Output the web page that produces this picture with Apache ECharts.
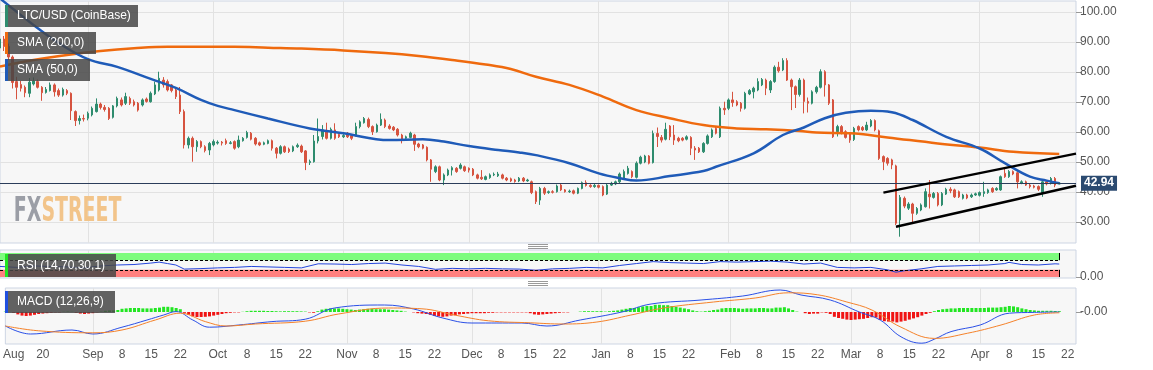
<!DOCTYPE html>
<html><head><meta charset="utf-8">
<script src="https://cdn.jsdelivr.net/npm/echarts@6/dist/echarts.min.js"></script>
<style>html,body{margin:0;padding:0;background:#fff}#c{width:1153px;height:370px}</style>
</head><body><div id="c"></div>
<script>
// ---------- data ----------
const startDate = [2019, 7, 11];   // first category (Aug 11 2019)
const dayCount = 258;              // categories Aug 11 2019 .. Apr 24 2020
const ohlc = [ // [open, close, low, high]
[88,91,87,92],[91,88.5,87,92],[88.5,85,84,89.5],[85,76.5,74.5,85.5],[76.8,74.9,70.9,78.4],[75.8,74.6,73.5,77],[74.9,73.1,71.6,75.5],[72.9,76.6,71.6,78],[76,77,75.5,78.2],[76.8,74.9,74.5,77.5],
[74.9,73.1,70.4,75.3],[73.2,74.2,72.8,75],[73.8,75.7,73.5,76.5],[75.7,73.4,71.8,76.2],[73.8,72.3,71.7,74.5],[72.3,74.2,71.8,74.8],[73.8,72.9,72.3,74.3],[72.9,67.1,64,73.2],[66.8,63.8,62,67.2],[63.8,64.5,62.5,65.5],
[64.5,64.3,63.5,65.8],[64.6,66.2,63.9,66.8],[65.7,67.9,65.2,68.5],[66.8,69.3,66.5,71.2],[69.3,68.2,67.5,69.8],[68.2,67.5,66.8,69],[67.9,64.5,64,68.3],[64.9,68.7,64.5,69],[68.7,71.2,68.2,71.8],[70.7,69,68.5,71.5],
[69.6,71.8,69,73.1],[71.2,69.6,69,71.8],[70.1,69,68.5,70.8],[69.6,67.3,66.8,70],[69,70.7,68.5,71.2],[71,70.2,69.8,71.5],[70.1,72.9,69.8,73.5],[72.7,75.7,72.3,76.8],[74,77.9,73.5,80.1],[77.3,75.7,74.8,78.3],
[76.8,74,73.5,77.5],[75.7,73.8,73.2,76],[74,71.8,71,74.5],[72.3,66.8,66,75],[66.8,55.7,54.5,67.5],[55.7,57.9,54.5,58.5],[57.9,55.1,50.1,58.5],[55.1,56.8,53.4,57.3],[56.8,55.1,54.6,57.2],[55.1,53.8,53.2,55.6],
[54,56.2,52.3,56.7],[55.7,56.8,55.2,57.5],[56.3,56.6,55.8,57.2],[56.6,56.3,55.5,57],[57.1,56.2,55.7,57.8],[56.2,56.4,55.9,57],[56.8,54.6,54.1,57.2],[55.1,57.3,54.6,58.8],[57.1,57.9,56.8,58.3],[58.2,59.8,57.8,60.4],
[59.6,57.6,57.2,60],[57.9,56,55.5,58.3],[56.4,55.7,55.3,56.8],[55.9,56.4,55.6,56.8],[56.2,57.1,55.9,57.5],[57.1,54.6,53.8,57.5],[54.6,52.9,51.2,55],[52.9,55.1,52.5,55.6],[55.1,53.4,53,55.5],[54.3,53.5,53,54.8],
[53.7,55.1,53.3,55.5],[55.1,55.6,54.7,56.2],[55.3,53.4,53,55.8],[53.7,49.8,47.3,54],[49.8,50.2,49,50.8],[50.1,57,49.8,59],[57,58.5,56.2,64.5],[58.5,60.7,57.5,62.3],[60.1,57.9,57.5,63.1],[57.9,60.9,57.5,61.5],
[60.7,57.9,57.4,62.9],[59.2,58.4,58,59.6],[58.4,58.8,58,59.3],[59.6,58.4,58,60],[58.8,57.9,57.3,59.2],[59,61.8,58.5,63.1],[61.8,63.4,61.2,63.9],[63.1,64.5,62.8,65],[64.2,61.8,61.3,64.8],[61.8,60.1,59,62.2],
[60.1,62.3,59.8,62.8],[62.3,64.2,62,66.2],[64,61.8,61.3,64.5],[62,61.2,60.8,62.6],[61.6,60.7,60.3,62],[60.9,59,58.5,61.3],[59,57.3,56.2,59.4],[57.9,58.4,57.5,58.8],[58.2,59.6,57.9,60.1],[59,55.9,53.7,59.4],
[56,55.1,54.6,56.4],[55.7,54.6,54.2,56],[54.9,50.7,50.2,55.2],[50.7,47.6,43.4,51],[46.8,48.4,46.3,48.9],[48.4,44,43.6,48.8],[44,45.7,42.3,46.2],[45.7,47.3,45.3,47.8],[47.3,48.1,45.5,48.6],[47.9,46.8,46.4,48.3],
[47.9,49,47.5,49.6],[48.4,47.1,46.7,48.8],[47.9,47.3,46.5,48.2],[47.6,45.7,45.3,48],[45.7,44.6,44.2,46.1],[44.9,44.4,44,47.3],[44.2,45.1,43.9,45.5],[44.8,45.7,44.4,46.2],[45.7,45.9,45.3,46.5],[45.4,46,45,46.7],
[45.7,44.6,44.2,46.1],[44.6,44,43.6,45],[44.4,43.7,43.3,44.8],[44,43.5,43.1,44.4],[43.7,44.6,43.3,45],[44.6,43.7,43.3,45],[43.7,44,43.4,44.4],[43.4,39.8,39.3,43.8],[40.1,36.8,36,40.5],[37.3,41.2,35.7,41.7],
[41.2,39.6,39,41.7],[39.8,40.1,39.4,40.5],[40.1,39.9,39.5,40.6],[40.1,42,39.8,42.5],[42.3,40.7,40.3,42.9],[40.7,40.1,39.8,41],[40.1,40.3,39.7,40.8],[40.4,39.6,39.2,40.8],[39.6,41.2,39.3,41.5],[41.2,43.1,40.9,43.5],
[43.1,42.2,41.8,43.9],[42.2,41.8,41.4,42.6],[41.8,42.2,41.4,42.8],[42.2,41.6,41.2,42.5],[41.8,39,38.6,42.2],[39.3,42.3,39,42.7],[42.3,42.9,42,43.4],[42.7,43.4,42.3,43.8],[43.4,46,43,46.5],[44.6,46.8,44,47.5],
[46.2,47.9,45.8,48.7],[46.8,45.1,44.6,47.2],[44.9,49.6,44.5,50.2],[49.6,51.6,49.2,52.1],[50,52,49.6,52.4],[52,49.6,49.2,52.3],[49.8,59.5,49.5,60.5],[59.5,58.5,55,61.5],[58.2,57.3,56.5,59],[57.6,60.9,57.2,63.1],
[62,58.4,57.3,62.3],[59,57.3,55.7,62.3],[57.9,57.1,56.6,58.4],[57.9,57.3,56.9,58.3],[57.6,58.4,57.2,58.9],[58.2,54.6,52.3,58.6],[54.6,54,50.7,55.3],[54.6,53.4,53,55],[53.4,56.2,53,56.6],[56.2,58.7,55.8,59.2],
[58.4,60.7,58,61.2],[61.2,59.6,59.2,61.7],[58.4,67.9,58,68.5],[67.9,67.4,65.7,70.1],[67.9,70.7,67.3,71.2],[70.7,69.8,68.4,73.4],[70.1,69,68.6,70.6],[69.6,67.9,66.8,70],[67.9,72.9,67.5,73.4],[72.7,73.8,72.3,74.3],
[73.4,74.6,71.2,75.1],[74,76.8,73.6,77.9],[75.7,77.5,75.3,78],[77.3,74.6,72.3,77.8],[74,76.8,73,77.3],[76.8,81.6,76.4,82.2],[81.6,80.4,79.8,83.4],[80.7,83.8,80.3,84.6],[83.8,77.3,77,84.6],[77.3,75.1,67.3,77.8],
[75.1,72.5,68,75.5],[72.5,77.3,71.8,78],[77.3,70.2,66.2,77.8],[70.2,69.6,66.5,71.5],[69.6,73.4,69.2,73.9],[73.4,74.9,72.8,75.4],[74.9,80.1,74.5,80.9],[80.1,75.7,71.8,80.6],[75.7,69.6,69,76],[70.7,58.4,58,71],
[60.1,61.8,58.5,62.4],[61.8,59.6,59.2,62.3],[60.1,58.2,57.8,60.6],[59.6,57.3,56.4,60],[57.5,61.2,57,61.7],[61.8,60.7,60.2,62.2],[61.5,60.7,60.3,62],[60.7,62.3,60.3,63.4],[62,63.8,61.6,64.3],[63.8,60.7,60.2,64.2],
[60.4,51.2,50.7,60.8],[51.8,50.1,47.3,52.2],[51.2,49.6,48.8,51.6],[50.7,49,47.6,51.1],[48.7,29.6,29,49.1],[30.7,38.2,25.1,39],[37.9,35.3,34.6,38.5],[34.6,36,34,36.6],[36,32.9,29.6,36.4],[32.9,34.5,32.4,35],
[34,35.7,33.6,36.2],[35.1,40.1,34.8,41.2],[39.3,38.4,34.5,44],[38.2,39.5,37.8,40],[39.5,35.7,35.2,40],[35.7,39.5,35.3,40],[39.3,40.9,39,41.4],[40.9,40.4,39.6,41.6],[40.7,38.4,38,41.1],[40.1,38.4,38,40.5],
[37.9,39,37.5,39.4],[39,38,37.6,39.4],[38.4,39,38,39.5],[39,39.4,38.7,39.8],[38.9,39.8,38.5,40.2],[39.5,40.1,38.4,43.4],[39.8,40.7,39.4,41.1],[41.2,40.1,39.7,41.6],[40.7,41.2,40.4,41.6],[40.7,45.1,40.4,45.5],
[46.2,45.1,44.7,47.9],[45.1,46.8,44.7,47.3],[46.8,46,45.6,47.2],[46.4,43.4,41.2,46.8],[43,43.4,42.6,43.9],[43.4,42.3,42,43.8],[42.3,41.8,41.2,42.7],[42,41.6,41.2,42.4],[41.8,40.9,40.3,42.2],[39.5,43.4,38.4,43.9],
[43.4,42.7,42.2,44],[42.9,44.5,42.5,45],[44.5,42.3,41.6,45],[42.7,42.94,42.5,43.3]
];
const sma200 = [[0,81.8],[8,84],[16,85.7],[24,87],[32,87.9],[40,88.4],[48,88.4],[56,88.4],[64,88.1],[72,87.8],[82,87.2],[92,86.3],[100,85.3],[108,84],[116,82.5],[122,81],[128,78.4],[136,75.7],[144,71.8],[152,67.3],[160,64.6],[168,62.3],[176,61.2],[183,60.9],[191,60.3],[195,59.8],[203,59.6],[212,58.2],[224,56.2],[234,54.8],[242,53.4],[253,52.7]];
const sma50 = [[0,104.5],[8,95.7],[14,89.7],[21,84.3],[28,81.7],[36,77.7],[42,74.7],[48,70.7],[52,68.7],[56,67.3],[64,64.5],[74,61.2],[82,59.6],[93,57.3],[101,57.6],[106,56.8],[112,55.3],[119,54],[124,53.2],[128,52.3],[136,49.6],[143,46.2],[148,44.6],[152,43.8],[160,45.3],[168,47],[171,48.4],[180,52.9],[187,59],[192,61.5],[197,64.6],[202,66.4],[208,67.1],[213,66.6],[218,64],[226,58.4],[234,54.5],[240,49.6],[246,45.1],[250,43.8],[253,42.9]];
const rsi = [[0,44],[4,40],[8,46],[12,44],[16,42],[20,38],[24,46],[28,50],[32,52],[36,58],[38,62],[40,56],[42,50],[44,33],[48,35],[52,38],[56,40],[60,44],[64,42],[68,40],[72,38],[76,55],[80,54],[84,52],[88,56],[92,58],[96,50],[100,44],[104,32],[108,36],[112,34],[116,36],[120,34],[124,33],[128,28],[132,34],[136,36],[140,40],[144,38],[148,48],[152,56],[156,64],[160,60],[164,58],[168,56],[172,64],[176,62],[180,64],[184,66],[188,62],[192,54],[196,58],[200,40],[204,38],[208,40],[212,30],[214,20],[216,26],[220,34],[224,44],[228,46],[232,48],[236,50],[240,56],[241,61],[244,52],[248,50],[252,55],[253,54]];
const macdLine = [[0,-3.5],[6,-5.5],[16,-4.5],[21,-5.5],[28,-3.8],[34,-2],[38,-0.75],[41,0.1],[45,-2],[49,-3.8],[56,-3.25],[64,-2.4],[72,-1.8],[79,1],[91,1.75],[98,0.75],[105,-1.5],[112,-2.75],[124,-2.75],[130,-3.5],[138,-2],[148,0],[155,2],[167,3],[177,4],[186,5.5],[191,4.25],[198,3],[205,0],[210,-2],[215,-6.2],[220,-7.8],[223,-6.8],[227,-4.9],[234,-3.25],[241,-0.3],[247,-0.1],[253,0]];
const signalLine = [[0,-3.5],[8,-4.7],[21,-5.2],[28,-4.5],[36,-2],[42,-0.3],[48,-2.4],[53,-3.5],[60,-3],[72,-2.3],[80,-0.5],[92,1],[100,0.8],[108,-0.8],[116,-2.2],[126,-2.7],[134,-3],[142,-2.5],[150,-0.8],[158,1],[170,2.5],[180,3.5],[188,4.8],[195,4.3],[202,2.5],[208,0.5],[215,-3.8],[223,-6.6],[231,-5.3],[239,-3.25],[247,-0.75],[253,-0.2]];
const macdHist = [
0.1,0,-0.2, -0.6,-0.9,-1.0,-0.9, -0.7,-0.5,-0.4,-0.3,-0.2,-0.1,-0.1, 0.05,0.1,0.05,-0.2,-0.4,-0.5,-0.4,
-0.3,-0.1,0.1,0.3,0.4,0.4,0.5, 0.8,0.9,1.0,1.0,1.0,0.9,0.9,0.9,1.0,1.1,1.3,1.3,1.2,1.0,0.7,
-0.2,-0.7,-1.1,-1.25,-1.25,-1.2,-1.1,-0.9,-0.7,-0.5, -0.3,-0.2,-0.1,-0.1,0.05,
0.2,0.3,0.3,0.3,0.3,0.25,0.25,0.2,0.15,0.2,0.2,0.2,0.2,0.15,0.1, -0.1,-0.2,
0.2,0.6,0.8,0.9,0.9,0.9,0.8,0.7,0.6,0.5,0.6,0.7,0.8,0.8,0.7,0.7,0.7,0.6,0.5,0.4,0.3,0.1,0,-0.1,-0.3,-0.4,
-0.5,-0.7,-1.0,-1.1,-1.2,-1.1,-0.9,-0.8,-0.6,-0.5,-0.4,-0.3,
-0.3,-0.3,-0.3,-0.2,-0.2,-0.1,-0.1,-0.1,-0.1,-0.1,-0.1,-0.1,-0.1,-0.3,-0.6,-0.7,-0.6,-0.5,
-0.4,-0.3,-0.2,-0.1,-0.1,0,0,0.1,0.2,0.2,0.2,0.2,0.2,0.1,0.2,0.3,0.4,
0.6,0.8,1.0,1.0,1.2,1.4,1.5,1.5,1.8,1.8,1.7,1.7,1.5,1.3,1.1,0.9,0.7,0.4,0.2,0.1,0.2,0.3,0.5,0.6,0.9,
1.0,1.0,1.0,0.9,0.8,0.9,0.9,0.9,1.0,1.0,0.9,0.9,1.1,1.1,1.2,0.9,0.5,
0.1,0.0,-0.3,-0.5,-0.4,-0.4,-0.1,-0.2,-0.5,-1.2,-1.5,-1.7,-1.9,-2.0,-1.9,-1.8,-1.7,-1.5,-1.3,-1.4,-2.0,-2.3,-2.4,-2.4,-2.6,
-2.4,-2.2,-1.9,-1.6,-1.3,-0.9,-0.5,-0.2,
0.2,0.5,0.7,0.8,0.9,0.9,1.0,1.0,1.0,1.0,1.0,1.0,1.0,1.1,1.1,1.1,1.2,1.3,1.5,1.4,1.2,0.9,0.7,0.5,0.4,0.3,0.3,0.3,0.3,0.25,0.2
];
const priceTicks = [30,40,50,60,70,80,90,100];
const tickLabels = [['2019-08-13','Aug'],['2019-08-20','20'],['2019-09-01','Sep'],['2019-09-08','8'],['2019-09-15','15'],['2019-09-22','22'],['2019-10-01','Oct'],['2019-10-08','8'],['2019-10-15','15'],['2019-10-22','22'],['2019-11-01','Nov'],['2019-11-08','8'],['2019-11-15','15'],['2019-11-22','22'],['2019-12-01','Dec'],['2019-12-08','8'],['2019-12-15','15'],['2019-12-22','22'],['2020-01-01','Jan'],['2020-01-08','8'],['2020-01-15','15'],['2020-01-22','22'],['2020-02-01','Feb'],['2020-02-08','8'],['2020-02-15','15'],['2020-02-22','22'],['2020-03-01','Mar'],['2020-03-08','8'],['2020-03-15','15'],['2020-03-22','22'],['2020-04-01','Apr'],['2020-04-08','8'],['2020-04-15','15'],['2020-04-22','22']];
const monthLines = ['2019-09-01','2019-10-01','2019-11-01','2019-12-01','2020-01-01','2020-02-01','2020-03-01','2020-04-01'];
const lastPrice = 42.94;
const channelUpper = [[211, 39.8], [257, 52.8]];
const channelLower = [[214, 28.4], [257, 42.1]];
const legendTexts = ['LTC/USD (CoinBase)', 'SMA (200,0)', 'SMA (50,0)', 'RSI (14,70,30,1)', 'MACD (12,26,9)'];

// ---------- build ----------
const dates = [];
const t0 = Date.UTC(startDate[0], startDate[1], startDate[2]);
for (let k = 0; k < dayCount; k++) dates.push(new Date(t0 + k * 86400000).toISOString().slice(0, 10));
const labelMap = new Map(tickLabels);
const gridSet = new Set(monthLines);
const pts = arr => arr.map(p => [dates[p[0]], p[1]]);

const UP = '#2e8c6e', DOWN = '#d6533f';
const FONT = '"Liberation Sans", Arial, sans-serif';
const gridBase = {left: 0, width: 1076, show: true, backgroundColor: '#f7f7f7', borderColor: '#cdd5e3', borderWidth: 1};

function xAx(i, showLabel) {
  return {
    type: 'category', gridIndex: i, data: dates, boundaryGap: false,
    axisLine: {show: false}, axisTick: {show: false},
    axisLabel: {show: showLabel, interval: (idx, v) => labelMap.has(v), formatter: v => labelMap.get(v) || '',
      color: '#555', fontSize: 12, fontFamily: FONT, margin: 5},
    splitLine: {show: true, interval: (idx, v) => gridSet.has(v), lineStyle: {color: '#e2e2e2', width: 1}}
  };
}
function yAx(i, min, max, vals, fmt, split) {
  return {
    type: 'value', gridIndex: i, position: 'right', min, max, scale: true,
    axisLine: {show: false},
    axisTick: {show: true, length: 6, customValues: vals, lineStyle: {color: '#999'}},
    axisLabel: {customValues: vals, formatter: fmt, color: '#555', fontSize: 12, fontFamily: FONT, margin: 4},
    splitLine: {show: split, lineStyle: {color: '#e2e2e2'}}
  };
}

function legendBox(x, y, w, h, color, text) {
  return {type: 'group', z: 100, children: [
    {type: 'rect', shape: {x, y, width: w, height: h}, style: {fill: 'rgba(70,70,70,0.85)'}, z: 100},
    {type: 'rect', shape: {x, y, width: 3, height: h}, style: {fill: color}, z: 101},
    {type: 'text', x: x + 12, y: y + h / 2, z: 101, style: {text, fill: '#fff', font: '12px ' + FONT, verticalAlign: 'middle'}}
  ]};
}
function grip(cx, cy) {
  const ch = [];
  for (let k = -1; k <= 1; k++) ch.push({type: 'line', shape: {x1: cx - 10, y1: cy + k * 2 + 0.5, x2: cx + 10, y2: cy + k * 2 + 0.5}, style: {stroke: '#9a9a9a', lineWidth: 1}});
  return {type: 'group', children: ch};
}

const histData = macdHist.map(v => ({value: v, itemStyle: {color: v >= 0 ? '#22e622' : '#f01414'}}));
const logoFont = 'bold 34px "Liberation Sans Narrow", "DejaVu Sans Condensed", sans-serif';

const option = {
  animation: false,
  backgroundColor: '#ffffff',
  grid: [
    Object.assign({top: 1, height: 242}, gridBase),
    Object.assign({top: 250, height: 28}, gridBase),
    Object.assign({top: 288, height: 56}, gridBase)
  ],
  xAxis: [xAx(0, false), xAx(1, false), xAx(2, true)],
  yAxis: [
    yAx(0, 23, 103.67, priceTicks, v => v.toFixed(2), true),
    yAx(1, -4.17, 112.5, [0], v => v.toFixed(2), false),
    yAx(2, -8, 6, [-0.001], v => v.toFixed(2), false)
  ],
  series: [
    {
      type: 'candlestick', xAxisIndex: 0, yAxisIndex: 0, data: ohlc, barWidth: 2,
      itemStyle: {color: UP, color0: DOWN, borderColor: UP, borderColor0: DOWN, borderWidth: 1},
      markLine: {
        silent: true, symbol: ['none', 'none'], animation: false,
        data: [
          {yAxis: lastPrice, lineStyle: {color: '#2b3d5b', width: 1, type: 'solid'},
            label: {show: true, position: 'end', formatter: lastPrice.toFixed(2), color: '#fff', fontWeight: 'bold', fontSize: 12, fontFamily: FONT,
              backgroundColor: '#2b4a70', padding: [2, 3, 1, 3], distance: 5}},
          [{coord: [dates[channelUpper[0][0]], channelUpper[0][1]], lineStyle: {color: '#000', width: 2.5, type: 'solid'}, label: {show: false}},
           {coord: [dates[channelUpper[1][0]], channelUpper[1][1]]}],
          [{coord: [dates[channelLower[0][0]], channelLower[0][1]], lineStyle: {color: '#000', width: 2.5, type: 'solid'}, label: {show: false}},
           {coord: [dates[channelLower[1][0]], channelLower[1][1]]}]
        ]
      }
    },
    {type: 'line', xAxisIndex: 0, yAxisIndex: 0, data: pts(sma200), smooth: 0.4, showSymbol: false, lineStyle: {color: '#ef6a0e', width: 2.5}, z: 3},
    {type: 'line', xAxisIndex: 0, yAxisIndex: 0, data: pts(sma50), smooth: 0.4, showSymbol: false, lineStyle: {color: '#1f5bb8', width: 2.5}, z: 3},
    {
      type: 'line', xAxisIndex: 1, yAxisIndex: 1, data: pts(rsi), showSymbol: false, lineStyle: {color: '#2444dc', width: 1}, z: 4,
      markArea: {silent: true, data: [
        [{xAxis: dates[0], yAxis: 70, itemStyle: {color: '#7dfc7d'}}, {xAxis: dates[253], yAxis: 100}],
        [{xAxis: dates[0], yAxis: 0, itemStyle: {color: '#ff8080'}}, {xAxis: dates[253], yAxis: 30}]
      ]},
      markLine: {silent: true, symbol: ['none', 'none'], label: {show: false}, data: [
        [{coord: [dates[0], 70], lineStyle: {color: '#000', width: 1, type: [3, 2]}}, {coord: [dates[253], 70]}],
        [{coord: [dates[0], 30], lineStyle: {color: '#000', width: 1, type: [3, 2]}}, {coord: [dates[253], 30]}],
        [{coord: [dates[253], 70], lineStyle: {color: '#000', width: 1, type: 'solid'}}, {coord: [dates[253], 100]}],
        [{coord: [dates[253], 0], lineStyle: {color: '#000', width: 1, type: 'solid'}}, {coord: [dates[253], 30]}]
      ]}
    },
    {type: 'bar', xAxisIndex: 2, yAxisIndex: 2, data: histData, barWidth: 3, z: 2},
    {type: 'line', xAxisIndex: 2, yAxisIndex: 2, data: pts(macdLine), smooth: 0.4, showSymbol: false, lineStyle: {color: '#2a4fe6', width: 1}, z: 4},
    {type: 'line', xAxisIndex: 2, yAxisIndex: 2, data: pts(signalLine), smooth: 0.4, showSymbol: false, lineStyle: {color: '#f5822a', width: 1}, z: 4}
  ],
  graphic: [
    legendBox(5, 5, 133, 22, UP, legendTexts[0]),
    legendBox(5, 32, 91, 22, '#ef6a0e', legendTexts[1]),
    legendBox(5, 59, 85, 22, '#1f5bb8', legendTexts[2]),
    legendBox(5, 254, 111, 23, '#22e622', legendTexts[3]),
    legendBox(5, 291, 110, 22, '#1f4fe0', legendTexts[4]),
    grip(538, 246), grip(538, 283),
    {type: 'text', x: 10, y: 212, z: 50, scaleX: 0.62, originX: 10, originY: 212,
      style: {text: '{a|FX}{b|STREET}', verticalAlign: 'middle',
        rich: {a: {fill: '#9b9ea6', font: logoFont}, b: {fill: '#f2c48a', font: logoFont}}}}
  ]
};
const chart = echarts.init(document.getElementById('c'), null, {renderer: 'canvas'});
chart.setOption(option);
</script></body></html>
